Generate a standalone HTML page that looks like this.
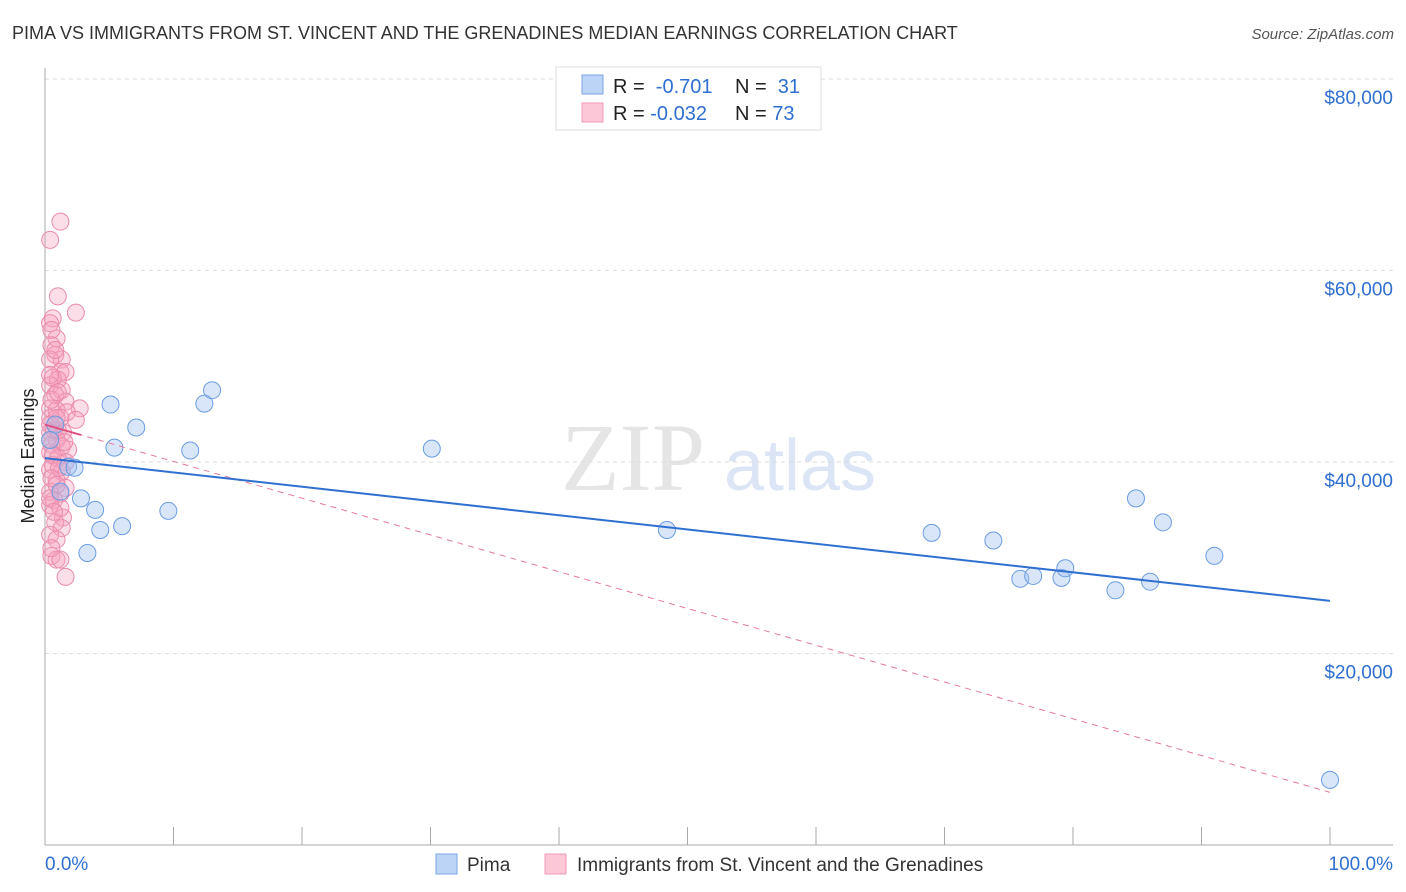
<!DOCTYPE html>
<html><head><meta charset="utf-8"><style>
body{margin:0;background:#fff;font-family:"Liberation Sans",sans-serif}
svg{display:block}
</style></head><body>
<svg id="chart" width="1406" height="892" viewBox="0 0 1406 892">
<text x="12" y="39" font-size="18" fill="#333">PIMA VS IMMIGRANTS FROM ST. VINCENT AND THE GRENADINES MEDIAN EARNINGS CORRELATION CHART</text>
<text x="1394" y="39" font-size="15" fill="#555" text-anchor="end" font-style="italic">Source: ZipAtlas.com</text>
<g opacity="0.5">
<text x="633" y="490" font-size="96" fill="#ccc" text-anchor="middle" font-family="Liberation Serif,serif">ZIP</text>
<text x="800" y="490" font-size="72" fill="#b8cdec" text-anchor="middle">atlas</text>
</g>
<g id="grid"></g>
<g id="axes"></g>
<g id="marks"></g>
<text transform="translate(34,456) rotate(-90)" font-size="18" fill="#222" text-anchor="middle">Median Earnings</text>
<g>
<rect x="556" y="67" width="265" height="63" fill="#fff" stroke="#ddd"/>
<rect x="582" y="75" width="21" height="19" fill="#bcd4f5" stroke="#7aa5e5"/>
<rect x="582" y="103" width="21" height="19" fill="#fcc8d8" stroke="#ef9ab8"/>
<text x="613" y="93" font-size="20" fill="#222">R = <tspan fill="#2f6fd0">&#160;-0.701</tspan></text>
<text x="735" y="93" font-size="20" fill="#222">N = <tspan fill="#2f6fd0">&#160;31</tspan></text>
<text x="613" y="120" font-size="20" fill="#222">R = <tspan fill="#2f6fd0">-0.032</tspan></text>
<text x="735" y="120" font-size="20" fill="#222">N = <tspan fill="#2f6fd0">73</tspan></text>
</g>
<g>
<rect x="436" y="854" width="21" height="20" fill="#bcd4f5" stroke="#7aa5e5"/>
<text x="467" y="871" font-size="19" fill="#333">Pima</text>
<rect x="545" y="854" width="21" height="20" fill="#fcc8d8" stroke="#ef9ab8"/>
<text x="577" y="871" font-size="19" fill="#333">Immigrants from St. Vincent and the Grenadines</text>
</g>
</svg>
<script>
const yTicks=[20000,40000,60000,80000];
const yTickLabels=["$20,000","$40,000","$60,000","$80,000"];
const xTickLabels=["0.0%","100.0%"];
const pimaX=[0.8,1.8,2.3,2.8,3.3,3.9,4.3,5.1,5.4,6.0,7.1,9.6,11.3,12.4,13.0,30.1,48.4,69.0,73.8,75.9,76.9,79.1,79.4,83.3,84.9,86.0,87.0,91.0,100,1.2,0.4];
const pimaY=[43.9,39.5,39.4,36.2,30.5,35.0,32.9,46.0,41.5,33.3,43.6,34.9,41.2,46.1,47.5,41.4,32.9,32.6,31.8,27.8,28.1,27.9,28.9,26.6,36.2,27.5,33.7,30.2,6.8,36.9,42.3];
const immX=[1.2,0.4,1.0,2.4,0.6,0.4,0.9,0.5,0.8,1.3,0.4,1.2,1.6,0.6,1.0,0.4,1.3,0.8,1.6,2.7,0.4,0.9,1.7,2.4,0.4,0.8,1.4,0.4,0.9,0.5,1.8,0.4,1.0,1.6,0.6,0.4,1.3,0.9,1.6,0.4,1.2,0.7,0.4,1.4,0.8,1.3,0.4,0.9,0.5,0.9,1.2,1.6,0.4,0.7,1.2,0.5,1.0,0.4,0.8,0.5,1.3,0.6,1.1,0.5,0.9,0.4,1.2,0.7,0.5,1.0,0.4,0.9,1.5];
const immY=[65.1,63.2,57.3,55.6,55.0,54.5,52.9,52.2,51.2,50.7,50.7,49.4,49.4,48.8,48.6,48.0,47.5,47.0,46.3,45.6,45.6,45.4,45.2,44.4,44.6,43.9,43.1,43.1,42.3,41.8,41.3,41.0,40.4,40.0,39.7,39.2,39.0,38.1,37.3,36.9,36.7,36.0,35.5,34.2,33.7,33.1,32.4,31.9,30.2,29.8,29.8,28.0,42.3,43.3,44.6,46.5,47.3,49.1,51.7,53.8,41.6,40.7,39.4,38.3,37.6,36.2,35.2,34.8,31.0,43.3,43.9,44.6,42.1];
const pimaTrend=[40.4,25.5];
const immTrend=[43.9,5.5];
const NS='http://www.w3.org/2000/svg';
const X0=45,X1=1330,Y0=845,PXK=191.5/20;
const sx=p=>X0+(X1-X0)*p/100;
const sy=k=>Y0-k*PXK;
function mk(tag,attrs,parent){const e=document.createElementNS(NS,tag);for(const k in attrs)e.setAttribute(k,attrs[k]);parent.appendChild(e);return e;}
const grid=document.getElementById('grid'),axes=document.getElementById('axes'),marks=document.getElementById('marks');
yTicks.forEach((t,i)=>{
 const y=sy(t/1000);
 const l=mk('line',{x1:X0,x2:1393,y1:y,y2:y,stroke:'#ddd','stroke-dasharray':'4,4'},grid);
 
 
 const tx=mk('text',{x:1393,y:y+25,'font-size':19,fill:'#2f6fd0','text-anchor':'end'},axes);
 tx.textContent=yTickLabels[i];
 
 
});
const ax=mk('line',{x1:X0,x2:1393,y1:Y0,y2:Y0,stroke:'#aaa'},axes);


const ay=mk('line',{x1:X0,x2:X0,y1:68,y2:Y0,stroke:'#aaa'},axes);


for(let i=0;i<=10;i++){
 const tk=mk('line',{x1:sx(i*10),x2:sx(i*10),y1:827,y2:Y0,stroke:'#aaa'},axes);
 
 
}
[[0,'start'],[100,'end']].forEach((d,i)=>{
 const tx=mk('text',{x:i?1393:45,y:870,'font-size':19,fill:'#2f6fd0','text-anchor':d[1]},axes);
 tx.textContent=xTickLabels[i];
 
 
});
immX.forEach((x,i)=>{
 const c=mk('circle',{cx:sx(x),cy:sy(immY[i]),r:8.5,fill:'rgba(245,160,190,0.35)',stroke:'#ea8cad','stroke-width':1},marks);
 
 
});
pimaX.forEach((x,i)=>{
 const c=mk('circle',{cx:sx(x),cy:sy(pimaY[i]),r:8.5,fill:'rgba(160,192,240,0.4)',stroke:'#6b9ce2','stroke-width':1},marks);
 
 
});
const tl1=mk('line',{x1:sx(0),y1:sy(immTrend[0]),x2:sx(100),y2:sy(immTrend[1]),stroke:'#e57a9f','stroke-width':1,'stroke-dasharray':'6,5'},marks);


const tl1s=mk('line',{x1:sx(0),y1:sy(immTrend[0]),x2:sx(2.8),y2:sy(immTrend[0]+(immTrend[1]-immTrend[0])*0.028),stroke:'#e0507f','stroke-width':2},marks);


const tl2=mk('line',{x1:sx(0),y1:sy(pimaTrend[0]),x2:sx(100),y2:sy(pimaTrend[1]),stroke:'#2f6fd0','stroke-width':2},marks);


</script>
</body></html>
